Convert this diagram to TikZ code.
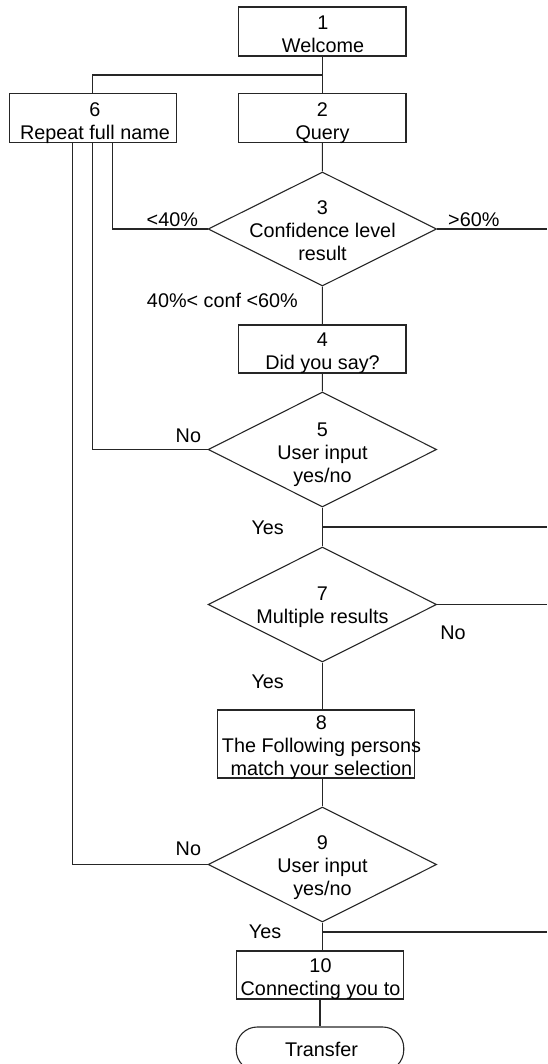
\documentclass[tikz,border=0pt]{standalone}
\usepackage{fontspec}
\setmainfont{Liberation Sans}
\usetikzlibrary{shapes.geometric}
\begin{document}
\begin{tikzpicture}[x=1pt,y=-1pt,
  conn/.style={line width=1.1pt, draw=black!85},
  boxnode/.style={draw=black!85, line width=1.1pt, rectangle, inner sep=0pt},
  decnode/.style={draw=black!85, line width=1.1pt, diamond, inner sep=0pt, minimum width=228.5pt, minimum height=115pt},
  termnode/.style={draw=black!85, line width=1.1pt, rectangle, rounded corners=21pt, inner sep=0pt, minimum width=167.5pt, minimum height=44pt},
  txt/.style={inner sep=0pt, align=center, anchor=north, font=\fontsize{19.8pt}{22.9pt}\selectfont},
  lbl/.style={inner sep=0pt, anchor=base, font=\fontsize{19.8pt}{22.9pt}\selectfont}]
\clip (0,0) rectangle (547,1064);
% boxes
\node[boxnode, minimum width=167.4pt, minimum height=49pt] (b1) at (322.3,31.5) {};
\node[boxnode, minimum width=167pt, minimum height=48.5pt] (b6) at (93.3,118.2) {};
\node[boxnode, minimum width=167.4pt, minimum height=48.5pt] (b2) at (322.3,118.2) {};
\node[decnode, minimum height=114pt] (d3) at (322.4,229) {};
\node[boxnode, minimum width=167.4pt, minimum height=48pt] (b4) at (322.3,349) {};
\node[decnode] (d5) at (322.4,449.5) {};
\node[decnode] (d7) at (322.4,604.5) {};
\node[boxnode, minimum width=196.7pt, minimum height=68pt] (b8) at (315.7,744) {};
\node[decnode] (d9) at (322.4,864.5) {};
\node[boxnode, minimum width=167pt, minimum height=48pt] (b10) at (320,975) {};
\node[termnode] (term) at (320,1049) {};
% texts
\node[txt] (t1) at (323,15.9) {1\\Welcome};
\node[txt] (t6) at (95,102.1) {6\\Repeat full name};
\node[txt] (t2) at (322.5,102.1) {2\\Query};
\node[txt] (t3) at (322.5,200.9) {3\\Confidence level\\result};
\node[txt] (t4) at (322.5,332.9) {4\\Did you say?};
\node[txt] (t5) at (322.5,422.9) {5\\User input\\yes/no};
\node[txt] (t7) at (322.5,586.9) {7\\Multiple results};
\node[txt] (t8) at (321.5,715.9) {8\\The Following persons\\match your selection};
\node[txt] (t9) at (322.5,835.9) {9\\User input\\yes/no};
\node[txt] (t10) at (320.5,958.9) {10\\Connecting you to};
\node[txt] (tt) at (321.5,1041.7) {Transfer};
% labels
\node[lbl] (l1) at (172.3,227) {<40\%};
\node[lbl] (l2) at (473.8,227) {>60\%};
\node[lbl] (l3) at (222.4,307) {40\%< conf <60\%};
\node[lbl] (l4) at (188.4,442) {No};
\node[lbl] (l5) at (267.7,534) {Yes};
\node[lbl] (l6) at (453,639.5) {No};
\node[lbl] (l7) at (267.7,688.5) {Yes};
\node[lbl] (l8) at (188.4,855.5) {No};
\node[lbl] (l9) at (265,938.5) {Yes};
% coordinates
\coordinate (j1) at (322.3,75);
\coordinate (e3) at (547,229);
\coordinate (j5) at (322.4,527);
\coordinate (e5) at (547,527);
\coordinate (e7) at (547,604.5);
\coordinate (j9) at (322.4,932);
\coordinate (e9) at (547,932);
% connectors
\draw[conn] (b1.south) -- (b2.north);
\draw[conn] (j1) -| ([xshift=-0.5pt]b6.north);
\draw[conn] (b2.south) -- (d3.north);
\draw[conn] (d3.west) -| ([xshift=19.4pt]b6.south);
\draw[conn] (d3.east) -- (e3);
\draw[conn] (d3.south) -- (b4.north);
\draw[conn] (b4.south) -- (d5.north);
\draw[conn] (d5.west) -| ([xshift=-0.5pt]b6.south);
\draw[conn] (d5.south) -- (d7.north);
\draw[conn] (j5) -- (e5);
\draw[conn] (d7.east) -- (e7);
\draw[conn] (d7.south) -- (d7.south |- b8.north);
\draw[conn] (b8.south -| d9.north) -- (d9.north);
\draw[conn] (d9.west) -| ([xshift=-20.8pt]b6.south);
\draw[conn] (d9.south) -- (d9.south |- b10.north);
\draw[conn] (j9) -- (e9);
\draw[conn] (b10.south) -- (term.north);
\end{tikzpicture}
\end{document}
